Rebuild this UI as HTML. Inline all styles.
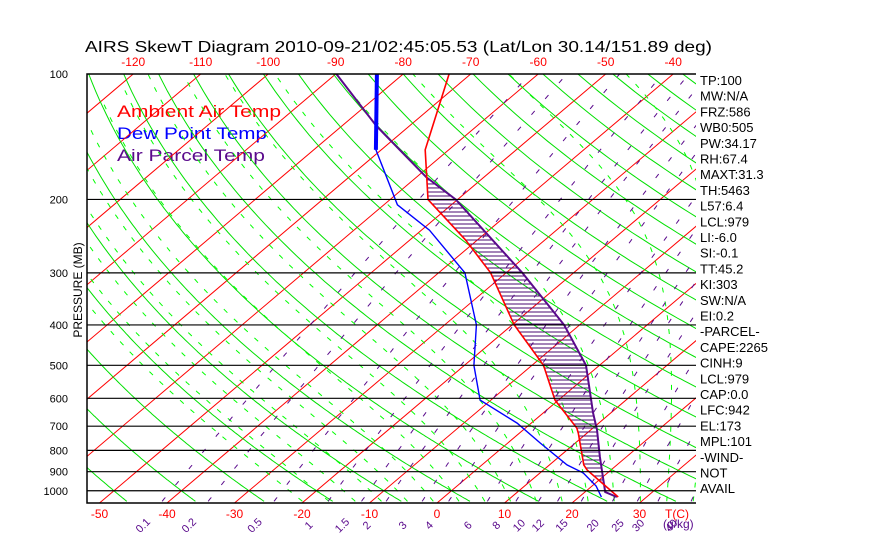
<!DOCTYPE html>
<html><head><meta charset="utf-8"><style>
html,body{margin:0;padding:0;background:#fff;width:870px;height:560px;overflow:hidden}
svg{display:block;font-family:"Liberation Sans",sans-serif}
</style></head><body>
<svg id="c" width="870" height="560" viewBox="0 0 870 560">
<text x="85" y="52" font-size="16" fill="#000" textLength="627" lengthAdjust="spacingAndGlyphs">AIRS SkewT Diagram 2010-09-21/02:45:05.53 (Lat/Lon 30.14/151.89 deg)</text>
<text transform="translate(82,290) rotate(-90)" text-anchor="middle" font-size="12" fill="#000">PRESSURE (MB)</text>
<text x="117" y="117" font-size="17" fill="#ff0000" textLength="164" lengthAdjust="spacingAndGlyphs">Ambient Air Temp</text>
<text x="117" y="139" font-size="17" fill="#0000ff" textLength="150" lengthAdjust="spacingAndGlyphs">Dew Point Temp</text>
<text x="117" y="161" font-size="17" fill="#5a0a8c" textLength="148" lengthAdjust="spacingAndGlyphs">Air Parcel Temp</text>
</svg>
<script>
// ---- data ----
const pressTicks = [100,200,300,400,500,600,700,800,900,1000];
const bottomTempTicks = [-50,-40,-30,-20,-10,0,10,20,30];
const topTempTicks = [-120,-110,-100,-90,-80,-70,-60,-50,-40];
const mixRatios = [0.1,0.2,0.5,1,1.5,2,3,4,6,8,10,12,15,20,25,30,40];
const tempP = [1035,892,867,727,707,606,500,400,300,250,200,152,100];
const tempT = [25.8,16.5,15.1,8.7,7.6,-0.5,-8.3,-19.7,-32.3,-41.8,-54.4,-63.5,-73.2];
const dewP = [1035,974,906,867,768,688,606,500,400,300,237,206,152,100];
const dewT = [23.3,20.6,16.4,12.6,4.8,-2.1,-11.6,-18.6,-25.3,-36.1,-48.8,-58.0,-70.8,-83.9];
const parP = [1035,1007,926,830,714,651,500,400,300,200,177,133,100];
const parT = [25.6,23.0,20.0,16.1,10.9,7.4,-2.0,-12.3,-27.6,-50.3,-58.5,-75.0,-89.9];
const infoLines = ["TP:100","MW:N/A","FRZ:586","WB0:505","PW:34.17","RH:67.4","MAXT:31.3","TH:5463","L57:6.4","LCL:979","LI:-6.0","SI:-0.1","TT:45.2","KI:303","SW:N/A","EI:0.2","-PARCEL-","CAPE:2265","CINH:9","LCL:979","CAP:0.0","LFC:942","EL:173","MPL:101","-WIND-","NOT","AVAIL"];

// ---- geometry ----
const X0=87, X1=696, Y0=74, Y1=503;
const NS='http://www.w3.org/2000/svg';
const svg=document.getElementById('c');
function yP(p){return 74+181*Math.log(p/100);}
function xT(T,y){return 437+6.75*T+1.18*(503-y);}
function mk(tag,attrs,parent){const e=document.createElementNS(NS,tag);for(const k in attrs)e.setAttribute(k,attrs[k]);(parent||svg).appendChild(e);return e;}
const defs=mk('defs',{});
const cp=mk('clipPath',{id:'clip'},defs);
mk('rect',{x:X0,y:Y0,width:X1-X0,height:Y1-Y0},cp);
const g=mk('g',{'clip-path':'url(#clip)'});


function poly(pts,attrs,parent){return mk('polyline',Object.assign({points:pts.map(p=>p[0].toFixed(1)+','+p[1].toFixed(1)).join(' '),fill:'none'},attrs),parent||g);}

// isotherms
for(let T=-170;T<=60;T+=10){
  const l=mk('line',{x1:xT(T,Y1),y1:Y1,x2:xT(T,Y0),y2:Y0,stroke:'#ff0000','stroke-width':1},g);
  
  
}
// dry adiabats
for(let th=-60;th<=200;th+=10){
  const pts=[];
  for(let p=1060;p>=95;p-=5){const y=yP(p);const T=(th+273.15)*Math.pow(p/1000,0.286)-273.15;pts.push([xT(T,y),y]);}
  const l=poly(pts,{stroke:'#00e000','stroke-width':1});
  
  
}
// moist adiabats
function es(T){return 6.112*Math.exp(17.67*T/(T+243.5));}
function dTdp(T,p){const Tk=T+273.15;const rs=0.622*es(T)/(p-es(T));return (287*Tk+2.5e6*rs)/(1004+2.5e6*2.5e6*rs*0.622/(287*Tk*Tk))/p;}
for(let T0=-24;T0<=36;T0+=4){
  const up=[],dn=[];let T=T0;
  for(let p=1000;p>=100;p-=2){const y=yP(p);up.push([xT(T,y),y]);T-=dTdp(T,p)*2;if(T<-120)break;}
  T=T0;for(let p=1000;p<=1060;p+=2){const y=yP(p);dn.push([xT(T,y),y]);T+=dTdp(T,p)*2;}
  const l=poly(dn.reverse().concat(up),{stroke:'#00ff00','stroke-width':1,'stroke-dasharray':'5 9'});
  
  
}
// mixing ratio lines
function tFromE(e){const a=Math.log(e/6.112);return 243.5*a/(17.67-a);}
mixRatios.forEach(w=>{
  const pts=[];
  for(let p=1060;p>=100;p-=5){const y=yP(p);const T=tFromE(w*p/(622+w));pts.push([xT(T,y),y]);}
  const l=poly(pts,{stroke:'#5a0a8c','stroke-width':1,'stroke-dasharray':'5 16'});
  
  
  const xb=xT(tFromE(w*1050/(622+w)),Y1);
  const t=mk('text',{transform:`translate(${(xb-14).toFixed(1)},528) rotate(-45)`,'font-size':11,fill:'#5a0a8c','text-anchor':'middle'});
  t.textContent=w;
  
  
});
// pressure lines
pressTicks.forEach(p=>{
  const y=yP(p);
  if(p>100){const l=mk('line',{x1:X0,y1:y,x2:X1,y2:y,stroke:'#000','stroke-width':1.2});
  
  }
  const t=mk('text',{x:68,y:y+4,'font-size':11,fill:'#000','text-anchor':'end'});
  t.textContent=p;
  
  
});
// hatching between parcel and temperature
function interpX(P,T,y){const pts=P.map((p,i)=>[xT(T[i],yP(p)),yP(p)]);for(let i=0;i<pts.length-1;i++){const a=pts[i],b=pts[i+1];if(y<=a[1]&&y>=b[1]){const f=(a[1]-y)/(a[1]-b[1]);return a[0]+f*(b[0]-a[0]);}}return null;}
const hg=mk('g',{},g);


for(let y=yP(942);y>=yP(173);y-=4){
  const a=interpX(tempP,tempT,y),b=interpX(parP,parT,y);
  if(a!==null&&b!==null&&b>a+1)mk('line',{x1:a,y1:y,x2:b,y2:y,stroke:'#4a0a70','stroke-width':1},hg);
}
// profiles
function prof(P,T,color,w,name){const l=poly(P.map((p,i)=>[xT(T[i],yP(p)),yP(p)]),{stroke:color,'stroke-width':w});return l;}
prof(parP,parT,'#5a0a8c',2,'parcel-temp-line');
prof(tempP,tempT,'#ff0000',1.6,'ambient-temp-line');
prof(dewP,dewT,'#0000ff',1.4,'dew-point-line');
{const pts=[];dewP.forEach((p,i)=>{if(p<=152)pts.push([xT(dewT[i],yP(p)),yP(p)]);});
 const l=poly(pts,{stroke:'#0000ff','stroke-width':4});}
// border
const b1=mk('polyline',{points:`${X1},${Y0} ${X0},${Y0} ${X0},${Y1} ${X1},${Y1}`,fill:'none',stroke:'#000','stroke-width':1.5});


// temperature tick labels
bottomTempTicks.forEach(T=>{
  const t=mk('text',{x:xT(T,Y1),y:518,'font-size':12,fill:'#ff0000','text-anchor':'middle'});
  t.textContent=T;
  
  
});
topTempTicks.forEach(T=>{
  const t=mk('text',{x:xT(T,Y0),y:66,'font-size':12,fill:'#ff0000','text-anchor':'middle'});
  t.textContent=T;
  
  
});
{const t=mk('text',{x:677,y:518,'font-size':12,fill:'#ff0000','text-anchor':'middle'});t.textContent='T(C)';
 const u=mk('text',{x:663,y:528,'font-size':12,fill:'#5a0a8c'});u.textContent='(g/kg)';}
// info column
infoLines.forEach((s,i)=>{
  const t=mk('text',{x:700,y:85+i*15.7,'font-size':13,fill:'#000'});
  t.textContent=s;
  
  
});
</script>
</body></html>
